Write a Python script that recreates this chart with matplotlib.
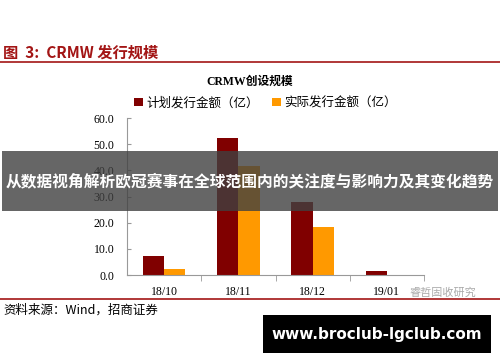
import numpy as np
import matplotlib.pyplot as plt
from matplotlib.patches import Rectangle

plt.rcParams['font.family'] = ['Liberation Serif', 'Noto Sans CJK SC', 'DejaVu Sans']

# data
months = ['18/10', '18/11', '18/12', '19/01']
planned = [7.3, 52.5, 27.8, 1.4]
actual = [2.3, 41.5, 18.2, 0.0]
y_ticks = [0, 10, 20, 30, 40, 50, 60]

dark_red = '#800000'
orange = '#FF9900'
title_red = '#A31515'

fig = plt.figure(figsize=(5, 3.62), dpi=100)
ax = fig.add_axes([0.254, 0.240, 0.594, 0.434])

x = np.arange(len(months))
w = 0.285
ax.bar(x - w / 2, planned, w, color=dark_red, label='计划发行金额（亿）')
ax.bar(x + w / 2, actual, w, color=orange, label='实际发行金额（亿）')

ax.set_xlim(-0.5, len(months) - 0.5)
ax.set_ylim(0, 60)
ax.set_yticks(y_ticks)
ax.set_yticklabels([f'{v:.1f}' for v in y_ticks], fontsize=8.5)
ax.set_xticks(x)
ax.set_xticklabels(months, fontsize=8.5)
ax.set_xticks(np.arange(0.5, len(months) - 0.4, 1), minor=True)
ax.tick_params(axis='x', which='major', length=0, pad=8)
ax.tick_params(axis='x', which='minor', length=4, direction='out', color='#999999')
ax.tick_params(axis='y', length=3, direction='in', color='#999999', pad=9)
for s in ['top', 'right']:
    ax.spines[s].set_visible(False)
for s in ['left', 'bottom']:
    ax.spines[s].set_color('#999999')

leg = ax.legend(loc='lower left', bbox_to_anchor=(-0.005, 1.0), ncol=2, frameon=False,
                fontsize=9, handlelength=0.7, handleheight=0.7, handletextpad=0.3,
                columnspacing=1.0, borderaxespad=0.3)
for t in leg.get_texts():
    t.set_family(['Noto Sans CJK SC', 'DejaVu Sans'])

# header
fig.text(0.006, 1 - 53 / 362, '图  3:  CRMW 发行规模', fontsize=11, fontweight='bold',
         color=title_red, va='center', family=['Noto Sans CJK SC', 'DejaVu Sans'])
fig.add_artist(plt.Line2D([0, 1], [1 - 62 / 362] * 2, color=title_red, lw=1.2))
fig.text(0.5, 1 - 82 / 362, 'CRMW创设规模', fontsize=8.5, fontweight='bold', ha='center',
         va='center', family=['Liberation Serif', 'Noto Sans CJK SC'])

# footer
fig.add_artist(plt.Line2D([0, 1], [1 - 299 / 362] * 2, color=title_red, lw=1.2))
fig.text(0.006, 1 - 310 / 362, '资料来源：Wind，招商证券', fontsize=9, va='center',
         family=['Noto Sans CJK SC', 'DejaVu Sans'])
fig.text(0.82, 1 - 293 / 362, '睿哲固收研究', fontsize=8, color='#aaaaaa', va='center',
         family=['Noto Sans CJK SC', 'DejaVu Sans'])

# overlay banner
fig.add_artist(Rectangle((0.004, 1 - 211 / 362), 0.992, 60 / 362, transform=fig.transFigure,
                         facecolor='#404040', alpha=0.8, edgecolor='none', zorder=10))
fig.text(0.5, 1 - 181 / 362, '从数据视角解析欧冠赛事在全球范围内的关注度与影响力及其变化趋势',
         fontsize=11.3, fontweight='bold', color='white', ha='center', va='center',
         family=['Noto Sans CJK SC', 'DejaVu Sans'], zorder=11)

fig.add_artist(Rectangle((263 / 500, 1 - 353 / 362), 228 / 500, 38 / 362, transform=fig.transFigure,
                         facecolor='black', edgecolor='none', zorder=10))
fig.text(377 / 500, 1 - 334 / 362, 'www.broclub-lgclub.com', fontsize=11, fontweight='bold',
         color='white', ha='center', va='center', family='DejaVu Sans', zorder=11)

fig.savefig('out.png', dpi=100)
